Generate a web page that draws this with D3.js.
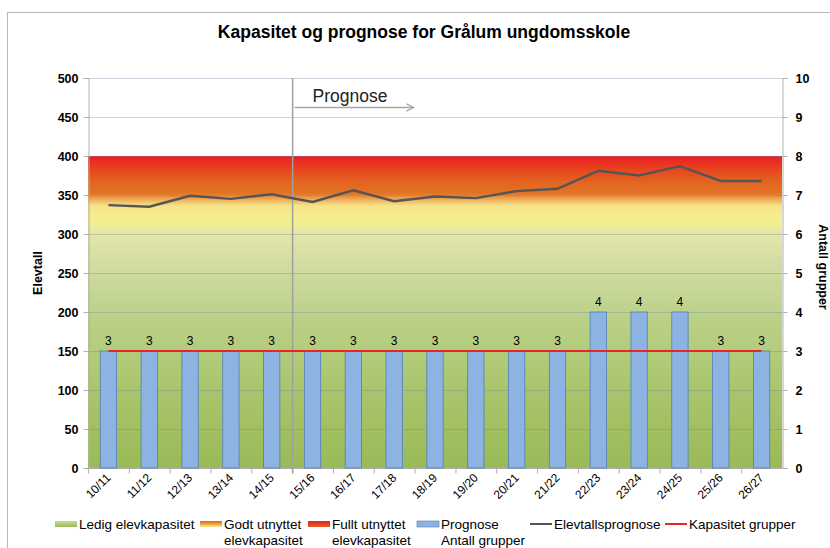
<!DOCTYPE html>
<html>
<head>
<meta charset="utf-8">
<script src="https://cdn.jsdelivr.net/npm/d3@7"></script>
<style>
  body { margin: 0; background: #fff; }
  text { font-family: "Liberation Sans", Arial, sans-serif; }
</style>
</head>
<body>
<svg id="chart" width="830" height="548"></svg>
<script>
const width = 830;
const height = 548;

/* DATA */
const years = ['10/11', '11/12', '12/13', '13/14', '14/15', '15/16', '16/17', '17/18', '18/19',
  '19/20', '20/21', '21/22', '22/23', '23/24', '24/25', '25/26', '26/27'];
const elevtall = [337, 335, 349, 345, 351, 341, 356, 342, 348, 346, 355, 358, 381, 375, 387, 368, 368];
const grupper = [3, 3, 3, 3, 3, 3, 3, 3, 3, 3, 3, 3, 4, 4, 4, 3, 3];
const kapasitetGrupper = [3, 3, 3, 3, 3, 3, 3, 3, 3, 3, 3, 3, 3, 3, 3, 3, 3];
const kapasitetMax = 400;
const prognoseStart = '15/16';

// colour bands of the capacity area (value -> colour)
const bandStops = [
  [400, '#ed1c24'], [385, '#e8401f'], [368, '#e2621f'], [352, '#e37426'],
  [344, '#eeae58'], [336, '#f5e589'], [318, '#f5ef8f'], [298, '#e3e6a9'],
  [260, '#d0dca3'], [200, '#bdd28a'], [100, '#a9c56c'], [0, '#9aba57']
];

const leftTicks = d3.range(0, 501, 50);
const rightTicks = d3.range(0, 11, 1);

const margin = { top: 78, bottom: 80, left: 88, right: 48 };

const svg = d3.select('#chart');

// outer chart frame
svg.append('rect')
  .attr('x', 7.5).attr('y', 12.5)
  .attr('width', 900).attr('height', 600)
  .attr('fill', 'none').attr('stroke', '#b8b8b8');

/* SCALES */
const x = d3.scaleBand()
  .domain(years)
  .range([margin.left, width - margin.right]);

const y = d3.scaleLinear()
  .domain([0, 500])
  .range([height - margin.bottom, margin.top]);

const y2 = d3.scaleLinear()
  .domain([0, 10])
  .range([height - margin.bottom, margin.top]);

/* GRADIENTS */
const defs = svg.append('defs');

const band = defs.append('linearGradient')
  .attr('id', 'band')
  .attr('gradientUnits', 'userSpaceOnUse')
  .attr('x1', 0).attr('x2', 0)
  .attr('y1', y(kapasitetMax)).attr('y2', y(0));

band.selectAll('stop')
  .data(bandStops)
  .enter()
  .append('stop')
  .attr('offset', d => ((kapasitetMax - d[0]) / kapasitetMax * 100) + '%')
  .attr('stop-color', d => d[1]);

function swatchGradient(id, colors) {
  const g = defs.append('linearGradient')
    .attr('id', id)
    .attr('x1', 0).attr('x2', 0).attr('y1', 0).attr('y2', 1);
  g.selectAll('stop')
    .data(colors)
    .enter()
    .append('stop')
    .attr('offset', (d, i) => (i / (colors.length - 1) * 100) + '%')
    .attr('stop-color', d => d);
}
swatchGradient('sw-green', ['#c9dc9c', '#9aba57']);
swatchGradient('sw-orange', ['#e2621f', '#f0a040', '#f5ef8f']);
swatchGradient('sw-red', ['#ed1c24', '#e2621f']);

defs.append('marker')
  .attr('id', 'arrow')
  .attr('viewBox', '0 0 10 10')
  .attr('refX', 9).attr('refY', 5)
  .attr('markerWidth', 9).attr('markerHeight', 9)
  .attr('markerUnits', 'userSpaceOnUse')
  .attr('orient', 'auto')
  .append('path')
  .attr('d', 'M1,1 L9,5 L1,9')
  .attr('fill', 'none')
  .attr('stroke', '#a6a6a6')
  .attr('stroke-width', 1.4);

/* CAPACITY AREA */
svg.append('rect')
  .attr('x', x.range()[0])
  .attr('y', y(kapasitetMax))
  .attr('width', x.range()[1] - x.range()[0])
  .attr('height', y(0) - y(kapasitetMax))
  .attr('fill', 'url(#band)');

/* GRIDLINES */
svg.append('g')
  .selectAll('line')
  .data(leftTicks.filter(d => d > 0))
  .enter()
  .append('line')
  .attr('x1', x.range()[0]).attr('x2', x.range()[1])
  .attr('y1', d => y(d) + 0.5).attr('y2', d => y(d) + 0.5)
  .attr('stroke', 'rgba(110,130,160,0.35)');

/* AXES */
const axisColor = '#b0b0b0';

const leftAxis = svg.append('g')
  .attr('transform', 'translate(' + (margin.left + 0.5) + ',0)')
  .call(d3.axisLeft(y).tickValues(leftTicks).tickSize(5).tickPadding(5));

const rightAxis = svg.append('g')
  .attr('transform', 'translate(' + (width - margin.right + 0.5) + ',0)')
  .call(d3.axisRight(y2).tickValues(rightTicks).tickSize(5).tickPadding(8));

[leftAxis, rightAxis].forEach(g => {
  g.select('.domain').attr('stroke', axisColor);
  g.selectAll('.tick line').attr('stroke', axisColor);
  g.selectAll('.tick text')
    .attr('font-family', '"Liberation Sans", Arial, sans-serif')
    .attr('font-size', 12.5)
    .attr('font-weight', 'bold')
    .attr('fill', '#000');
});

// x axis line + ticks at category boundaries
const xAxisY = y(0) + 0.5;
svg.append('line')
  .attr('x1', x.range()[0]).attr('x2', x.range()[1])
  .attr('y1', xAxisY).attr('y2', xAxisY)
  .attr('stroke', axisColor);

svg.append('g')
  .selectAll('line')
  .data(years)
  .enter()
  .append('line')
  .attr('x1', d => x(d) + 0.5).attr('x2', d => x(d) + 0.5)
  .attr('y1', xAxisY).attr('y2', xAxisY + 5)
  .attr('stroke', axisColor);

svg.append('g')
  .selectAll('text')
  .data(years)
  .enter()
  .append('text')
  .attr('transform', d => 'translate(' + (x(d) + x.bandwidth() / 2 + 3) + ',' + (xAxisY + 10) + ') rotate(-45)')
  .attr('text-anchor', 'end')
  .attr('font-size', 12)
  .attr('fill', '#000')
  .text(d => d);

/* BARS */
const barWidth = x.bandwidth() * 0.4;

svg.append('g')
  .selectAll('rect')
  .data(grupper)
  .enter()
  .append('rect')
  .attr('x', (d, i) => x(years[i]) + (x.bandwidth() - barWidth) / 2)
  .attr('y', d => y2(d))
  .attr('width', barWidth)
  .attr('height', d => y2(0) - y2(d))
  .attr('fill', '#8db3e2')
  .attr('stroke', '#4f7fb8')
  .attr('stroke-width', 0.8);

svg.append('g')
  .selectAll('text')
  .data(grupper)
  .enter()
  .append('text')
  .attr('x', (d, i) => x(years[i]) + x.bandwidth() / 2)
  .attr('y', d => y2(d) - 6)
  .attr('text-anchor', 'middle')
  .attr('font-size', 12)
  .attr('fill', '#000')
  .text(d => d);

/* PROGNOSE MARKER */
const px = x(prognoseStart) + 0.5;
svg.append('line')
  .attr('x1', px).attr('x2', px)
  .attr('y1', y(500)).attr('y2', xAxisY + 5)
  .attr('stroke', '#a0a0a0')
  .attr('stroke-width', 1.5);

svg.append('line')
  .attr('x1', px + 2).attr('x2', px + 121)
  .attr('y1', 107.5).attr('y2', 107.5)
  .attr('stroke', '#a6a6a6')
  .attr('stroke-width', 1.4)
  .attr('marker-end', 'url(#arrow)');

svg.append('text')
  .attr('x', px + 20)
  .attr('y', 102)
  .attr('font-family', 'Lato, "Open Sans", sans-serif')
  .attr('font-size', 17.5)
  .attr('fill', '#222')
  .text('Prognose');

/* LINES */
const center = d => x(d) + x.bandwidth() / 2;

svg.append('path')
  .datum(kapasitetGrupper)
  .attr('fill', 'none')
  .attr('stroke', '#e8262a')
  .attr('stroke-width', 2)
  .attr('d', d3.line().x((d, i) => center(years[i])).y(d => y2(d)));

svg.append('path')
  .datum(elevtall)
  .attr('fill', 'none')
  .attr('stroke', '#555555')
  .attr('stroke-width', 2.4)
  .attr('d', d3.line().x((d, i) => center(years[i])).y(d => y(d)));

/* TITLES */
svg.append('text')
  .attr('x', 424)
  .attr('y', 38)
  .attr('text-anchor', 'middle')
  .attr('font-family', 'Lato, "Open Sans", sans-serif')
  .attr('font-weight', 'bold')
  .attr('font-size', 17.5)
  .attr('fill', '#000')
  .text('Kapasitet og prognose for Grålum ungdomsskole');

svg.append('text')
  .attr('transform', 'translate(42,273) rotate(-90)')
  .attr('text-anchor', 'middle')
  .attr('font-size', 12.5)
  .attr('font-weight', 'bold')
  .text('Elevtall');

svg.append('text')
  .attr('transform', 'translate(819,267) rotate(90)')
  .attr('text-anchor', 'middle')
  .attr('font-size', 12.5)
  .attr('font-weight', 'bold')
  .text('Antall grupper');

/* LEGEND */
const legendItems = [
  { x: 55, kind: 'rect', fill: 'url(#sw-green)', lines: ['Ledig elevkapasitet'] },
  { x: 200, kind: 'rect', fill: 'url(#sw-orange)', lines: ['Godt utnyttet', 'elevkapasitet'] },
  { x: 308, kind: 'rect', fill: 'url(#sw-red)', lines: ['Fullt utnyttet', 'elevkapasitet'] },
  { x: 417, kind: 'rect', fill: '#8db3e2', lines: ['Prognose', 'Antall grupper'] },
  { x: 530, kind: 'line', fill: '#555555', lines: ['Elevtallsprognose'] },
  { x: 665, kind: 'line', fill: '#e8262a', lines: ['Kapasitet grupper'] }
];

const legend = svg.append('g');
const legendY = 524;

legendItems.forEach(item => {
  const g = legend.append('g').attr('transform', 'translate(' + item.x + ',' + legendY + ')');
  if (item.kind === 'rect') {
    g.append('rect')
      .attr('x', 0).attr('y', -3)
      .attr('width', 22).attr('height', 6)
      .attr('fill', item.fill)
      .attr('stroke', item.fill === '#8db3e2' ? '#4f7fb8' : 'none')
      .attr('stroke-width', 0.6);
  } else {
    g.append('line')
      .attr('x1', 0).attr('x2', 22)
      .attr('y1', 0).attr('y2', 0)
      .attr('stroke', item.fill)
      .attr('stroke-width', 2);
  }
  g.selectAll('text')
    .data(item.lines)
    .enter()
    .append('text')
    .attr('x', 24)
    .attr('y', (d, i) => 5 + i * 16)
    .attr('font-size', 13.5)
    .attr('fill', '#000')
    .text(d => d);
});
</script>
</body>
</html>
